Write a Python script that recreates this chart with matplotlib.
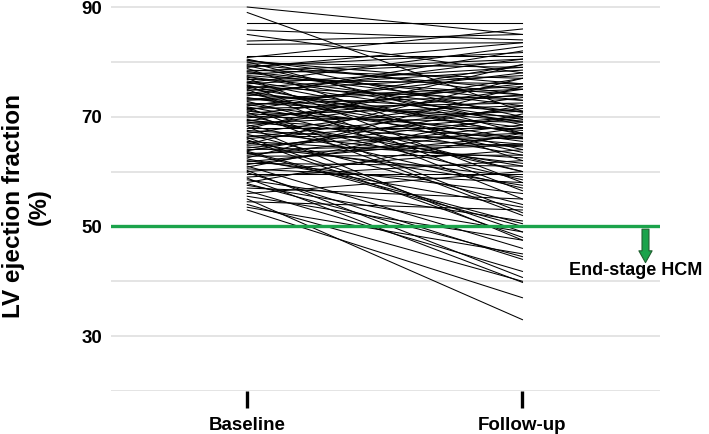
import matplotlib.pyplot as plt

plt.rcParams['font.family'] = ['Liberation Sans', 'DejaVu Sans']

# EF values per patient (baseline, follow-up), read row by row
baseline = [90, 89, 87, 87, 85.8, 85, 83.8, 83.2, 81, 80.8,
            80.5, 80.2, 80, 79.8, 79.5, 79.2, 79, 78.8, 78.5, 78.2,
            78, 77.8, 77.5, 77.2, 77, 76.8, 76.5, 76.2, 76, 75.8,
            75.5, 75.2, 75, 74.8, 74.5, 74.2, 74, 73.8, 73.5, 73.2,
            73, 72.8, 72.5, 72.2, 72, 71.8, 71.5, 71.2, 71, 70.8,
            70.5, 70.2, 70, 69.8, 69.5, 69.2, 69, 68.8, 68.5, 68,
            67.8, 67.5, 67, 66.8, 66.5, 66, 65.8, 65.5, 65, 64.8,
            64.5, 64, 63.8, 63.5, 63, 62.8, 62.5, 62, 61.8, 61.5,
            61, 60.8, 60.5, 60, 59.8, 59.5, 59, 58.5, 58, 57.5,
            57, 56.5, 56, 55.5, 55, 54.5, 54, 53.5, 53,
            80.3, 79.3, 78.3, 77.3, 76.3, 75.3, 74.3, 73.3, 72.3, 71.3,
            70.3, 69.3, 68.3, 67.3, 66.3, 65.3, 64.3, 63.3, 62.3, 61.3,
            66.2, 60.2, 58.8, 71.7, 68.2, 75.7, 63.7, 57.8]
followup = [85, 71, 87, 87, 84, 78, 85, 83.5, 81, 86,
            70, 76, 67, 79, 75, 81.7, 83.5, 62, 77, 73,
            72, 80, 74, 69.5, 58, 76, 69, 82.8, 79, 64,
            73, 67, 55, 77.5, 68, 80.5, 71, 82, 66, 75.5,
            75, 60, 70, 65.5, 78, 63, 72.5, 79.5, 67.5, 52,
            76, 58.5, 69, 74, 61, 77, 65, 71, 57, 68,
            79.5, 64.5, 73.5, 54, 66, 70, 48, 62.5, 77, 67,
            59, 65, 72, 50, 68.5, 63, 75.5, 56, 66.5, 61,
            46, 70.5, 58, 64, 44, 59.5, 62, 51, 67, 49,
            55, 41.8, 60, 47.5, 33, 53, 40, 45, 37,
            74, 68.5, 80.5, 70.8, 66.8, 78.5, 63.5, 69.2, 73.8, 60,
            72, 66.2, 75, 61.5, 71.5, 57.5, 69.8, 64.8, 53.5, 68,
            49, 40.7, 39.8, 52.5, 47.5, 56.5, 50.5, 44.5]

timepoints = ['Baseline', 'Follow-up']
grid_levels = [20, 30, 40, 60, 70, 80, 90]
ytick_vals = [30, 50, 70, 90]
cutoff = 50
green = '#1ba34b'

fig = plt.figure(figsize=(7.09, 4.34), dpi=100)
ax = fig.add_axes([0.1566, 0.0991, 0.7744, 0.8885])

for g in grid_levels:
    ax.axhline(g, color='#dcdcdc', lw=1.1, zorder=0)

for b, f in zip(baseline, followup):
    ax.plot([1, 2], [b, f], color='black', lw=0.75, zorder=2)

ax.axhline(cutoff, color=green, lw=2.4, zorder=3)

ax.annotate('', xy=(2.447, 43.4), xytext=(2.447, 49.5),
            arrowprops=dict(arrowstyle='simple,head_width=0.95,head_length=0.85,tail_width=0.5',
                            mutation_scale=10, fc=green, ec='#205f30', lw=0.8,
                            shrinkA=0, shrinkB=0), zorder=4)
ax.text(2.655, 42.0, 'End-stage HCM', fontsize=13, fontweight='bold',
        ha='right', va='center', clip_on=False)

ax.set_xlim(0.505, 2.5)
ax.set_ylim(20, 90.3)
ax.set_xticks([1, 2])
ax.set_xticklabels(timepoints, fontsize=13.5, fontweight='bold')
ax.set_yticks(ytick_vals)
ax.set_yticklabels([str(v) for v in ytick_vals], fontsize=13.5, fontweight='bold')
ax.tick_params(axis='x', length=12, width=2.4, direction='out', pad=7, color='black')
ax.tick_params(axis='y', length=0, pad=6.5)
for s in ax.spines.values():
    s.set_visible(False)

fig.text(2 / 709, 0.525, 'LV ejection fraction', rotation=90, fontsize=17.5,
         fontweight='bold', ha='left', va='center')
fig.text(39 / 709, 0.525, '(%)', rotation=90, fontsize=17,
         fontweight='bold', ha='center', va='center')

fig.savefig('out.png', dpi=100)
